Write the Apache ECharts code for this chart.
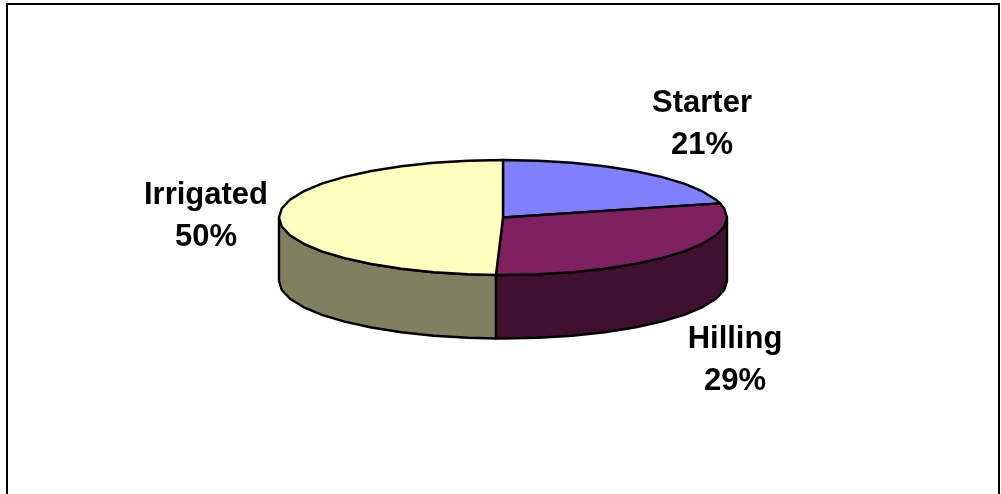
<!DOCTYPE html>
<html>
<head>
<meta charset="utf-8">
<style>html,body{margin:0;padding:0;background:#fff}#c{width:1001px;height:494px}</style>
<script src="https://cdn.jsdelivr.net/npm/echarts@6/dist/echarts.min.js"></script>
</head>
<body>
<div id="c"></div>
<script>
// Data
var categories = ['Starter', 'Hilling', 'Irrigated'];
var shares = [21.05, 29.45, 49.5];
var topColors = ['#8080FF', '#802060', '#FFFFC0'];
var wallColors = ['#404080', '#401030', '#808060'];

// Layout
var CX = 503, CY = 217.5, RX = 224, RY = 57.5, DEPTH = 63.5, STEP = 9;
var labelAnchors = [[702, 124], [735, 360], [206, 216.5]];
var LINE_GAP = 42, FONT = 'bold 31px "Liberation Sans", Arial, sans-serif';

var total = shares.reduce(function (a, b) { return a + b; }, 0);
var starts = [];
shares.reduce(function (acc, v, i) { starts[i] = acc; return acc + v; }, 0);

function rim(deg, dy) {
  var r = deg * Math.PI / 180;
  return [CX + RX * Math.sin(r), CY - RY * Math.cos(r) + (dy || 0)];
}
function arc(a0, a1, dy) {
  var pts = [rim(a0, dy)];
  var a = (Math.floor(a0 / STEP) + 1) * STEP;
  for (; a < a1; a += STEP) pts.push(rim(a, dy));
  pts.push(rim(a1, dy));
  return pts;
}
function sliceAngles(i) {
  return [starts[i] / total * 360, (starts[i] + shares[i]) / total * 360];
}
var edge = { stroke: '#000', lineWidth: 2.4, lineJoin: 'round' };

function renderWall(params, api) {
  var i = params.dataIndex, ang = sliceAngles(i);
  var a0 = Math.max(ang[0], 90), a1 = Math.min(ang[1], 270);
  if (a1 <= a0) return { type: 'group', children: [] };
  var pts = arc(a0, a1, 0).concat(arc(a0, a1, DEPTH).reverse());
  return {
    type: 'polygon',
    shape: { points: pts },
    style: Object.assign({ fill: wallColors[i] }, edge)
  };
}
function renderTop(params, api) {
  var i = params.dataIndex, ang = sliceAngles(i);
  var pts = [[CX, CY]].concat(arc(ang[0], ang[1], 0));
  var pct = Math.round(api.value(0) / total * 100) + '%';
  var p = labelAnchors[i];
  function label(text, y) {
    return {
      type: 'text', z2: 10,
      style: { x: p[0], y: y, text: text, font: FONT, fill: '#000', align: 'center', verticalAlign: 'middle' }
    };
  }
  return {
    type: 'group',
    children: [
      { type: 'polygon', shape: { points: pts }, style: Object.assign({ fill: topColors[i] }, edge) },
      label(categories[i], p[1] - LINE_GAP / 2),
      label(pct, p[1] + LINE_GAP / 2)
    ]
  };
}

var chart = echarts.init(document.getElementById('c'), null, { renderer: 'canvas' });
chart.setOption({
  animation: false,
  backgroundColor: '#fff',
  graphic: [{
    type: 'polyline',
    silent: true,
    shape: { points: [[7, 500], [7, 4], [999, 4], [999, 500]] },
    style: { stroke: '#000', lineWidth: 2, fill: null }
  }],
  series: [
    { type: 'custom', coordinateSystem: 'none', silent: true, z: 2, renderItem: renderWall, data: shares.map(function (v) { return [v]; }) },
    { type: 'custom', coordinateSystem: 'none', silent: true, z: 3, renderItem: renderTop, data: shares.map(function (v) { return [v]; }) }
  ]
});
</script>
</body>
</html>
